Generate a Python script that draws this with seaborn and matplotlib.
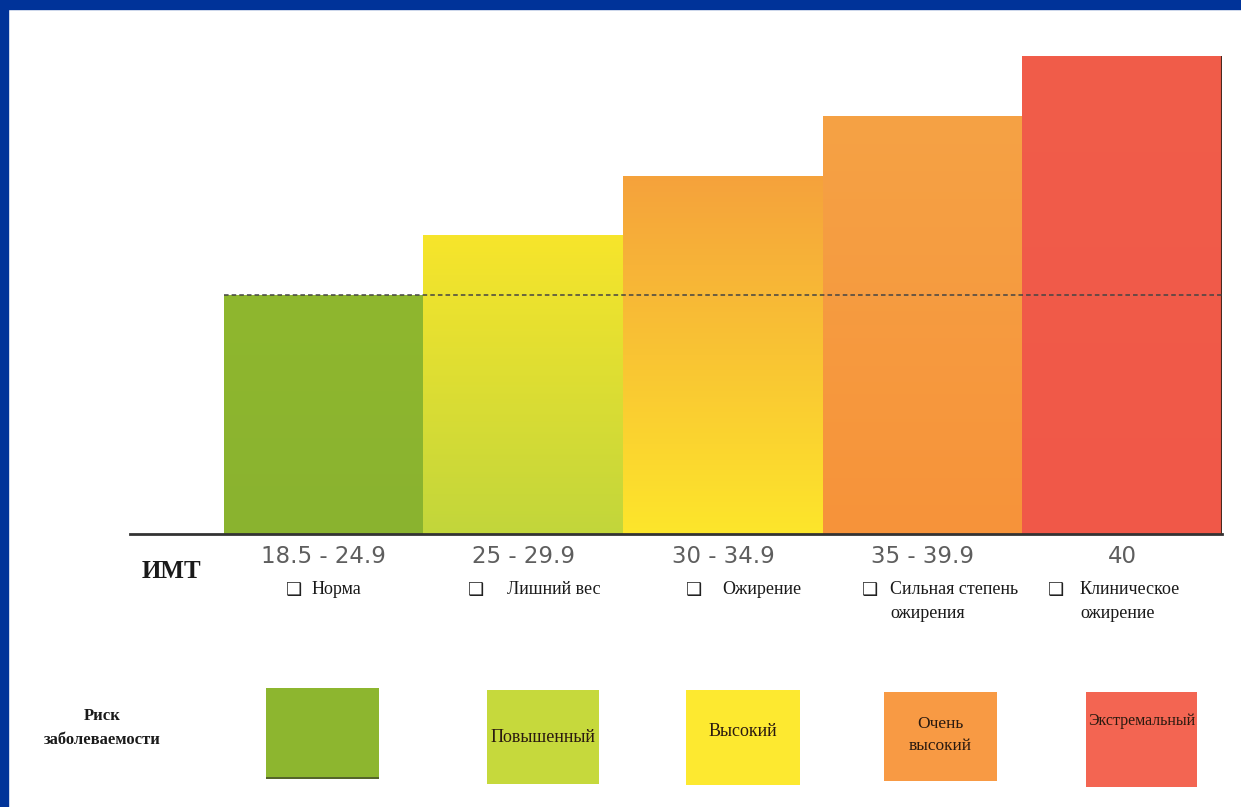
import matplotlib
matplotlib.use("Agg")
import matplotlib.pyplot as plt
import seaborn as sns
import numpy as np
from matplotlib.colors import LinearSegmentedColormap
from matplotlib.patches import Rectangle

# --- data ---
bmi_ranges = ["18.5 - 24.9", "25 - 29.9", "30 - 34.9", "35 - 39.9", "40"]
risk_level = [4, 5, 6, 7, 8]
status = ["Норма", "Лишний вес", "Ожирение", "Сильная степень\nожирения", "Клиническое\nожирение"]
risk_names = ["", "Повышенный", "Высокий", "Очень\nвысокий", "Экстремальный"]

# --- style ---
bar_colors = ["#8cb52f", "#d6dd35", "#fccc2c", "#f69a3e", "#f15b48"]
grad_bottom = ["#8ab330", "#c2d63b", "#fde62b", "#f7933a", "#f05848"]
grad_top = ["#8fb72e", "#f7e52b", "#f5a23c", "#f5a245", "#f15d4a"]
square_colors = ["#8db62f", "#c6d93c", "#fde930", "#f89a44", "#f36552"]

W, H = 1241, 807
def fx(x):
    return x / W
def fy(y):
    return 1 - y / H

sns.set_style("white")
plt.rcParams["font.family"] = ["Liberation Serif", "DejaVu Sans"]

fig = plt.figure(figsize=(W / 100, H / 100), dpi=100)
ax = fig.add_axes([fx(130), fy(534), (1222 - 130) / W, (534 - 56) / H])

sns.barplot(x=bmi_ranges, y=risk_level, hue=bmi_ranges, palette=bar_colors,
            width=1.0, saturation=1, legend=False, ax=ax, linewidth=0)

# vertical gradients clipped to the bars
for p, c0, c1 in zip(ax.patches, grad_bottom, grad_top):
    x0, w, h = p.get_x(), p.get_width(), p.get_height()
    cmap = LinearSegmentedColormap.from_list("g", [c0, c1])
    grad = np.linspace(0, 1, 256).reshape(-1, 1)
    im = ax.imshow(grad, cmap=cmap, origin="lower", aspect="auto",
                   extent=(x0, x0 + w, 0, h), zorder=p.get_zorder() + 0.1)
    im.set_clip_path(p)

last = ax.patches[-1]
xr = last.get_x() + last.get_width()
ax.plot([xr, xr], [0, last.get_height()], color="#4a2a20", lw=1.5, zorder=5)
ax.hlines(risk_level[0], ax.patches[0].get_x(), xr, colors="#444444",
          linestyles=(0, (3, 2)), lw=1.1, zorder=6)

ax.set_xlim(-0.97, 4.5)
ax.set_ylim(0, risk_level[-1])
ax.set_yticks([])
ax.set_xlabel("")
ax.set_ylabel("")
for s in ["top", "left", "right"]:
    ax.spines[s].set_visible(False)
ax.spines["bottom"].set_color("#333333")
ax.spines["bottom"].set_linewidth(2)
ax.tick_params(axis="x", length=0, pad=8, labelsize=16.5, labelcolor="#5e5e5e")
for t in ax.get_xticklabels():
    t.set_family("DejaVu Sans")

# labels under the axis
fig.text(fx(171), fy(571), "ИМТ", ha="center", va="center", size=18, weight="bold", color="#1a1a1a")
box_x = [286, 468, 686, 862, 1048]
text_x = [312, 507, 722, 890, 1080]
for bx, tx, s in zip(box_x, text_x, status):
    fig.text(fx(bx), fy(590), "❑", ha="left", va="center", size=13,
             family=["DejaVu Sans"], color="#222222")
    fig.text(fx(tx), fy(581), s, ha="left", va="top", size=13,
             color="#1a1a1a", linespacing=1.5)

# risk squares
fig.text(fx(102), fy(728), "Риск\nзаболеваемости", ha="center", va="center",
         size=12, weight="bold", color="#1a1a1a", linespacing=1.65)
squares = [(266, 688, 379, 778), (487, 690, 599, 784), (686, 690, 800, 785),
           (884, 692, 997, 781), (1086, 692, 1197, 787)]
label_y = [733, 737, 732, 735, 721]
sizes = [12, 13, 13, 12.5, 11.5]
for (x0, y0, x1, y1), c, name, ly, fs in zip(squares, square_colors, risk_names, label_y, sizes):
    fig.add_artist(Rectangle((fx(x0), fy(y1)), (x1 - x0) / W, (y1 - y0) / H,
                             transform=fig.transFigure, facecolor=c, edgecolor="none"))
    if name:
        fig.text(fx((x0 + x1) / 2), fy(ly), name, ha="center", va="center",
                 size=fs, color="#2a1a10", linespacing=1.55)
fig.add_artist(Rectangle((fx(266), fy(779)), 113 / W, 2 / H, transform=fig.transFigure,
                         facecolor="#55652a", edgecolor="none"))

# blue frame (top and left only)
fig.add_artist(Rectangle((0, fy(9)), 1, 9 / H, transform=fig.transFigure, color="#003399"))
fig.add_artist(Rectangle((0, 0), 8 / W, 1, transform=fig.transFigure, color="#003399"))

fig.savefig("out.png", dpi=100, facecolor="white")
